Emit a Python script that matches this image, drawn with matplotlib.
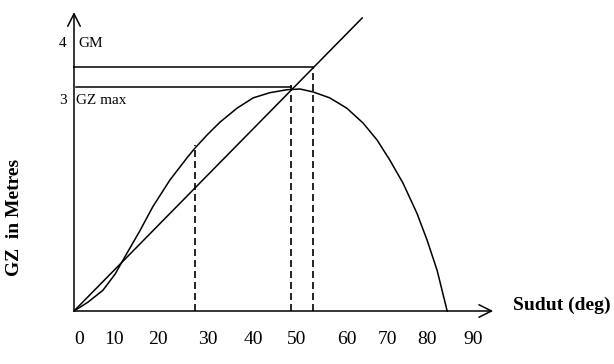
import matplotlib
matplotlib.use("Agg")
import matplotlib.pyplot as plt

plt.rcParams['font.family'] = ['Liberation Serif', 'DejaVu Serif']

# GZ curve (heel angle in degrees, GZ in metres)
angle = [0, 3.2, 6.6, 9.4, 11.6, 15.1, 18.0, 21.9, 25.8, 27.6, 30.4, 33.3,
         37.2, 40.9, 44.7, 48.6, 51.6, 54.6, 58.4, 62.3, 66.0, 69.2, 72.1,
         75.1, 78.3, 80.6, 82.9, 85.2]
gz = [0, 0.12, 0.28, 0.50, 0.73, 1.09, 1.41, 1.77, 2.07, 2.20, 2.38, 2.55,
      2.74, 2.88, 2.95, 2.99, 3.0, 2.96, 2.88, 2.74, 2.54, 2.31, 2.04,
      1.73, 1.32, 0.96, 0.55, 0]

# GM tangent line
gm_line_x = [0, 65.8]
gm_line_y = [0, 3.96]

gm_level = 3.30
gm_angle = 54.6
gz_max = 3.0
gz_max_angle = 49.5
mark_angle = 27.6
mark_top = 2.24

tick_labels = ['0', '10', '20', '30', '40', '50', '60', '70', '80', '90']
tick_pos = [1.1, 9.1, 19.2, 30.6, 40.9, 50.9, 62.3, 71.5, 80.6, 91.1]

fig = plt.figure(figsize=(6.14, 3.64), dpi=100)
ax = fig.add_axes([0, 0, 1, 1])
ax.set_xlim(-74 / 4.38, (614 - 74) / 4.38)
ax.set_ylim((311 - 364) / 74, 311 / 74)
ax.axis('off')

lw = 1.1
# axes with open arrow heads
arrow = dict(arrowstyle='->,head_length=0.9,head_width=0.45', lw=lw,
             color='black', shrinkA=0, shrinkB=0)
ax.annotate('', xy=(0, 4.04), xytext=(0, 0), arrowprops=arrow)
ax.annotate('', xy=(95.7, 0), xytext=(0, 0), arrowprops=arrow)

ax.plot(angle, gz, color='black', lw=lw, solid_joinstyle='round')
ax.plot(gm_line_x, gm_line_y, color='black', lw=lw)

# horizontal guides
ax.plot([0, gm_angle], [gm_level, gm_level], color='black', lw=lw)
ax.plot([0.5, gz_max_angle], [gz_max + 0.03, gz_max + 0.03], color='black', lw=lw)

# dashed verticals
dash = dict(color='black', lw=1.2, linestyle=(0, (4.2, 2.4)))
ax.plot([mark_angle, mark_angle], [0, mark_top], **dash)
ax.plot([gz_max_angle, gz_max_angle], [0, gz_max + 0.05], **dash)
ax.plot([gm_angle, gm_angle], [0, gm_level], **dash)

for lab, p in zip(tick_labels, tick_pos):
    ax.text(p, -0.39, lab, ha='center', va='center', fontsize=14)

ax.text(-2.5, 3.61, '4', ha='center', va='center', fontsize=11)
ax.text(1.1, 3.61, 'GM', ha='left', va='center', fontsize=11)
ax.text(-2.5, 2.85, '3', ha='center', va='center', fontsize=11)
ax.text(0.5, 2.85, 'GZ max', ha='left', va='center', fontsize=11)

ax.text(-13.5, 1.26, 'GZ  in Metres', rotation=90, ha='center', va='center',
        fontsize=14, fontweight='bold')
ax.text(100.2, 0.07, 'Sudut (deg)', ha='left', va='center',
        fontsize=14, fontweight='bold')

fig.savefig('out.png', dpi=100)
